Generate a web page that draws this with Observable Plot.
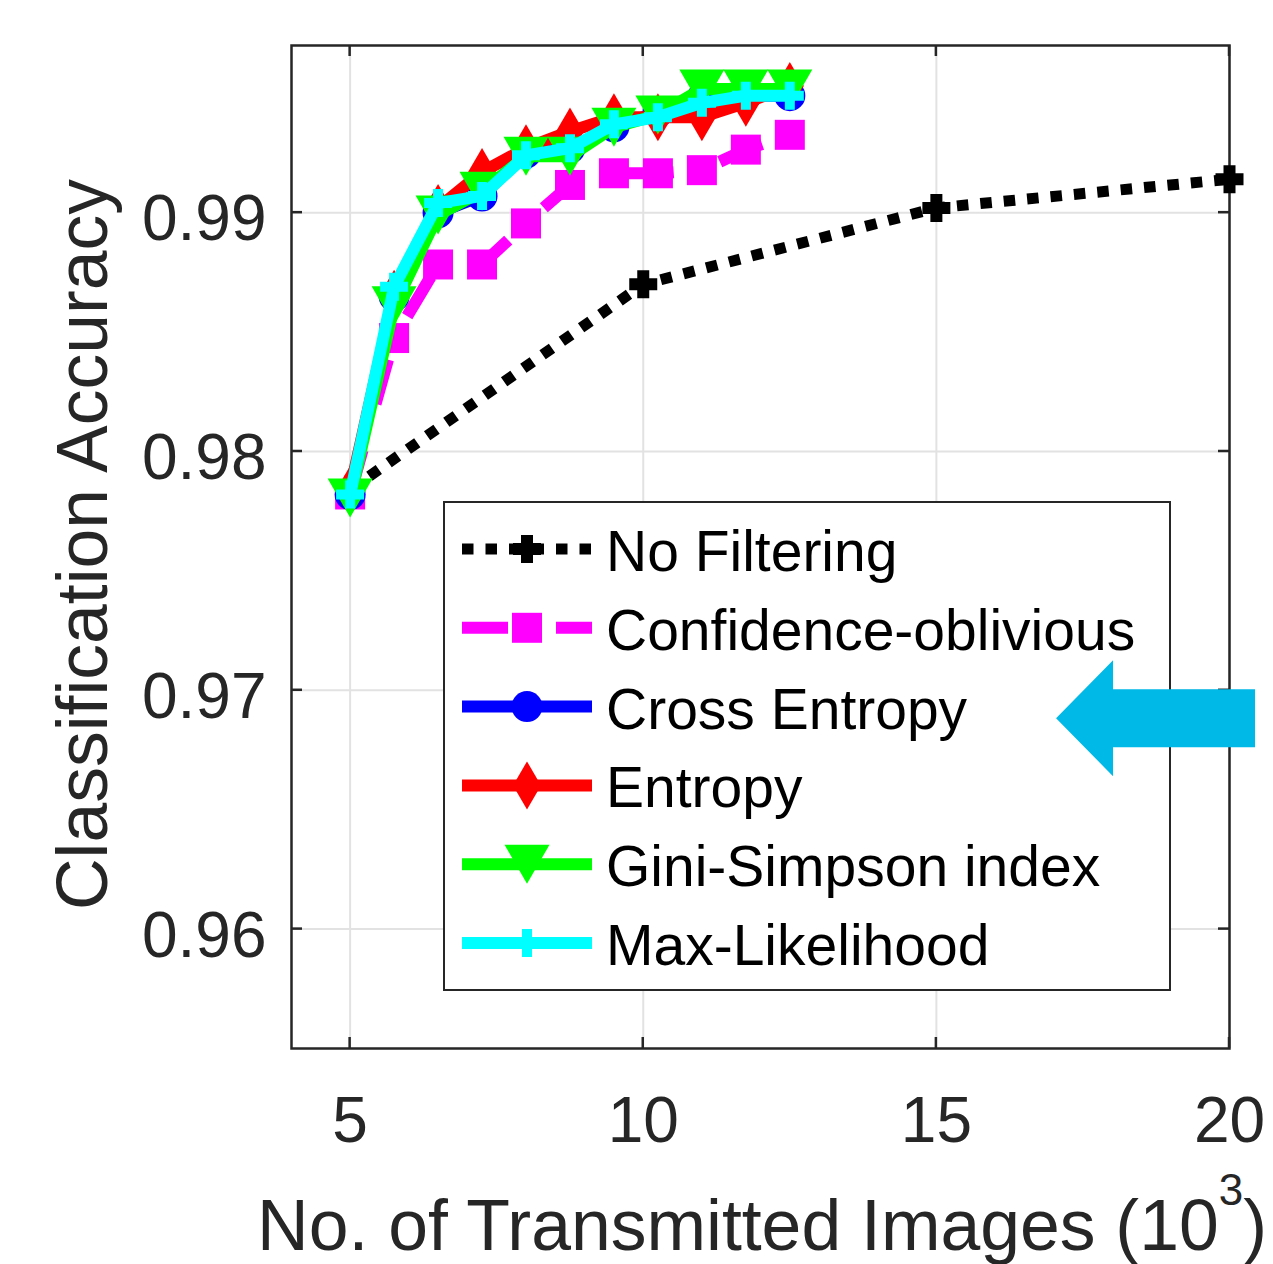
<!DOCTYPE html>
<html><head><meta charset="utf-8">
<script src="https://cdn.jsdelivr.net/npm/d3@7"></script>
<script src="https://cdn.jsdelivr.net/npm/@observablehq/plot@0.6"></script>
<style>html,body{margin:0;padding:0;background:#fff;} #chart svg{display:block;}</style>
</head><body><div id="chart"></div>
<script>
// ---- data ----
const xFiltered = [5, 5.75, 6.5, 7.25, 8, 8.75, 9.5, 10.25, 11, 11.75, 12.5];
const xNoFiltering = [5, 10, 15, 20];
const noFiltering = [0.9784, 0.9870, 0.9902, 0.9914];
const confidenceOblivious = [0.9782, 0.98475, 0.98783, 0.98783, 0.98955, 0.99116, 0.99165, 0.99165, 0.99178, 0.99264, 0.99326];
const crossEntropy = [0.9782, 0.9865, 0.9900, 0.9907, 0.9925, 0.9927, 0.9936, 0.9942, 0.9948, 0.9949, 0.9949];
const entropy = [0.9784, 0.9866, 0.9902, 0.9917, 0.9927, 0.9934, 0.9940, 0.9940, 0.9940, 0.9946, 0.9953];
const giniSimpson = [0.97805, 0.9861, 0.9899, 0.9909, 0.99236, 0.99236, 0.99358, 0.99409, 0.99518, 0.99518, 0.99518];
const maxLikelihood = [0.9782, 0.9869, 0.9904, 0.9907, 0.9924, 0.9927, 0.9937, 0.9940, 0.9946, 0.9949, 0.9949];
const seriesNames = ["No Filtering", "Confidence-oblivious", "Cross Entropy", "Entropy", "Gini-Simpson index", "Max-Likelihood"];
const xTicks = [5, 10, 15, 20];
const yTicks = [0.96, 0.97, 0.98, 0.99];
const xLabel = "No. of Transmitted Images (10";
const xLabelSup = "3";
const yLabel = "Classification Accuracy";

// ---- marker shapes ----
function poly(c, pts) { c.moveTo(pts[0][0], pts[0][1]); for (let i = 1; i < pts.length; i++) c.lineTo(pts[i][0], pts[i][1]); c.closePath(); }
function plusShape(h, a) { return {draw(c) { poly(c, [[-a,-h],[a,-h],[a,-a],[h,-a],[h,a],[a,a],[a,h],[-a,h],[-a,a],[-h,a],[-h,-a],[-a,-a]]); }}; }
const shapes = {
  plusBlack: plusShape(14, 6),
  plusCyan: plusShape(14, 5),
  square: {draw(c) { const s = 15; poly(c, [[-s,-s],[s,-s],[s,s],[-s,s]]); }},
  circle: {draw(c) { const r = 15.5; c.moveTo(r, 0); c.arc(0, 0, r, 0, 2 * Math.PI); c.closePath(); }},
  diamond: {draw(c) { poly(c, [[0,-24],[14,0],[0,24],[-14,0]]); }},
  triDown: {draw(c) { poly(c, [[-22.5,-19.5],[22.5,-19.5],[0,19.5]]); }}
};

const series = [
  {name: seriesNames[0], xs: xNoFiltering, ys: noFiltering, color: "#000000", width: 11, dash: "11.5,12", symbol: shapes.plusBlack},
  {name: seriesNames[1], xs: xFiltered, ys: confidenceOblivious, color: "#FF00FF", width: 12, dash: "46,48", symbol: shapes.square},
  {name: seriesNames[2], xs: xFiltered, ys: crossEntropy, color: "#0000FF", width: 12, dash: null, symbol: shapes.circle},
  {name: seriesNames[3], xs: xFiltered, ys: entropy, color: "#FF0000", width: 12, dash: null, symbol: shapes.diamond},
  {name: seriesNames[4], xs: xFiltered, ys: giniSimpson, color: "#00FF00", width: 12, dash: null, symbol: shapes.triDown},
  {name: seriesNames[5], xs: xFiltered, ys: maxLikelihood, color: "#00FFFF", width: 12, dash: null, symbol: shapes.plusCyan}
];

const dataMarks = series.flatMap(s => {
  const rows = s.xs.map((x, i) => ({x, y: s.ys[i], series: s.name}));
  return [
    Plot.line(rows, {x: "x", y: "y", stroke: s.color, strokeWidth: s.width, strokeDasharray: s.dash, strokeLinejoin: "round", strokeLinecap: "butt"}),
    Plot.dot(rows, {x: "x", y: "y", symbol: s.symbol, fill: s.color, stroke: "none", r: 10})
  ];
});

const FONT = "'Liberation Sans', Arial, Helvetica, sans-serif";
const chart = Plot.plot({
  width: 1273, height: 1264,
  marginTop: 45, marginRight: 44, marginBottom: 216, marginLeft: 291,
  style: {background: "#fff", fontFamily: FONT, color: "#262626", overflow: "visible"},
  x: {domain: [4, 20]},
  y: {domain: [0.955, 0.997]},
  marks: [
    Plot.gridX(xTicks, {stroke: "#e2e2e2", strokeOpacity: 1, strokeWidth: 2}),
    Plot.gridY(yTicks, {stroke: "#e2e2e2", strokeOpacity: 1, strokeWidth: 2}),
    Plot.axisX(xTicks, {tickSize: 0, tickPadding: 48, fontSize: 64, label: null, tickFormat: d => String(d)}),
    Plot.axisY(yTicks, {tickSize: 0, tickPadding: 25, fontSize: 64, label: null, tickFormat: d3.format(".2f"), dy: 7}),
    Plot.frame({stroke: "#262626", strokeWidth: 2.5}),
    ...dataMarks
  ]
});
document.getElementById("chart").append(chart);

// ---- inward ticks, legend, annotation arrow, axis titles ----
const svg = d3.select(chart);
const sx = chart.scale("x"), sy = chart.scale("y");
const [L, R] = sx.range, [B, T] = sy.range;
const TL = 11;
const tg = svg.append("g").attr("stroke", "#262626").attr("stroke-width", 2.5);
xTicks.forEach(v => {
  const px = sx.apply(v);
  tg.append("line").attr("x1", px).attr("x2", px).attr("y1", B).attr("y2", B - TL);
  tg.append("line").attr("x1", px).attr("x2", px).attr("y1", T).attr("y2", T + TL);
});
yTicks.forEach(v => {
  const py = sy.apply(v);
  tg.append("line").attr("y1", py).attr("y2", py).attr("x1", L).attr("x2", L + TL);
  tg.append("line").attr("y1", py).attr("y2", py).attr("x1", R).attr("x2", R - TL);
});

// legend
const lg = svg.append("g").attr("text-anchor", "start");
lg.append("rect").attr("x", 444).attr("y", 502).attr("width", 726).attr("height", 488)
  .attr("fill", "#fff").attr("stroke", "#262626").attr("stroke-width", 2);
series.forEach((s, i) => {
  const cy = 549 + i * 78.8;
  lg.append("line").attr("x1", 462).attr("x2", 592).attr("y1", cy).attr("y2", cy)
    .attr("stroke", s.color).attr("stroke-width", s.width)
    .attr("stroke-dasharray", s.dash).attr("stroke-linecap", "butt");
  const p = d3.path(); s.symbol.draw(p);
  lg.append("path").attr("d", p.toString()).attr("transform", `translate(527,${cy})`).attr("fill", s.color);
  lg.append("text").attr("x", 606).attr("y", cy + 22).attr("font-size", 57).attr("font-family", FONT)
    .attr("text-anchor", "start").attr("fill", "#000").text(s.name);
});

// annotation arrow (tip anchored in data space)
const tipX = sx.apply(17.05), tipY = sy.apply(0.96881);
const ar = [[0,0],[57,-58],[57,-29],[199,-29],[199,29],[57,29],[57,58]];
svg.append("polygon").attr("points", ar.map(([a, b]) => `${tipX + a},${tipY + b}`).join(" ")).attr("fill", "#00B9E7");

// axis titles
svg.append("text").attr("transform", `translate(107,${(T + B) / 2 - 2}) rotate(-90)`)
  .attr("text-anchor", "middle").attr("font-size", 71.5).attr("font-family", FONT).attr("fill", "#262626").text(yLabel);
const xt = svg.append("text").attr("x", (L + R) / 2 + 2).attr("y", 1250).attr("text-anchor", "middle")
  .attr("font-size", 71.5).attr("font-family", FONT).attr("fill", "#262626");
xt.append("tspan").text(xLabel);
xt.append("tspan").attr("font-size", 44).attr("dy", -45).text(xLabelSup);
xt.append("tspan").attr("dy", 45).text(")");
</script>
</body></html>
